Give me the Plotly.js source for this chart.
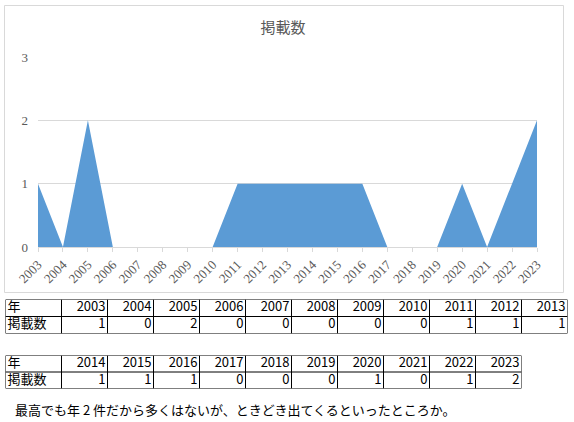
<!DOCTYPE html>
<html>
<head>
<meta charset="utf-8">
<script src="https://cdn.plot.ly/plotly-3.0.1.min.js"></script>
<style>html,body{margin:0;padding:0;background:#fff;}</style>
</head>
<body>
<div id="chart" style="width:574px;height:422px;"></div>
<script>
const years = [2003,2004,2005,2006,2007,2008,2009,2010,2011,2012,2013,2014,2015,2016,2017,2018,2019,2020,2021,2022,2023];
const counts = [1,0,2,0,0,0,0,0,1,1,1,1,1,1,0,0,0,1,0,1,2];
const chartTitle = '掲載数';
const rowHeaderYear = '年';
const rowHeaderCount = '掲載数';
const note = '最高でも年 2 件だから多くはないが、ときどき出てくるといったところか。';
const split = 11;

const W = 574, H = 422;
const px = v => v / W;
const py = v => 1 - v / H;

const jp = '"Noto Sans CJK JP", "Noto Sans", sans-serif';
const serif = '"Liberation Serif", "DejaVu Serif", serif';

const FIRST_W = 56, COL_W = 46;

// Build a table as line + text traces on its own axis pair
function tableTraces(ys, cs, ax) {
  const xa = 'x' + ax, ya = 'y' + ax;
  const n = ys.length;
  const edges = [0, FIRST_W];
  for (let i = 0; i < n; i++) edges.push(FIRST_W + (i + 1) * COL_W);
  const total = edges[edges.length - 1];
  const lx = [], ly = [];
  edges.forEach(e => { lx.push(e, e, null); ly.push(0, 2, null); });
  [0, 1, 2].forEach(r => { lx.push(0, total, null); ly.push(r, r, null); });
  const grid = {
    type: 'scatter', xaxis: xa, yaxis: ya, mode: 'lines',
    x: lx, y: ly, line: {color: '#000', width: 1}, hoverinfo: 'skip'
  };
  const headText = {
    type: 'scatter', xaxis: xa, yaxis: ya, mode: 'text',
    x: [2, 2], y: [0.5, 1.5], text: [rowHeaderYear, rowHeaderCount],
    textposition: 'middle right',
    textfont: {family: jp, size: 13, color: '#000'}, hoverinfo: 'skip'
  };
  const vx = [], vy = [], vt = [];
  ys.forEach((yr, i) => {
    const right = edges[i + 2] - 2;
    vx.push(right, right); vy.push(0.5, 1.5); vt.push(String(yr), String(cs[i]));
  });
  const valText = {
    type: 'scatter', xaxis: xa, yaxis: ya, mode: 'text',
    x: vx, y: vy, text: vt, textposition: 'middle left',
    textfont: {family: jp, size: 13, color: '#000'}, hoverinfo: 'skip'
  };
  return {traces: [grid, headText, valText], total: total};
}

const area = {
  type: 'scatter',
  x: years,
  y: counts,
  mode: 'lines',
  line: {width: 0, color: '#5B9BD5'},
  fill: 'tozeroy',
  fillcolor: '#5B9BD5',
  hoverinfo: 'x+y'
};

const T1 = tableTraces(years.slice(0, split), counts.slice(0, split), 2);
const T2 = tableTraces(years.slice(split), counts.slice(split), 3);

function tblAxisX(total, x0) {
  return {domain: [px(x0), px(x0 + total)], range: [0, total], visible: false, fixedrange: true};
}
function tblAxisY(yTop, yBot) {
  return {domain: [py(yBot), py(yTop)], range: [2, 0], visible: false, fixedrange: true};
}

const layout = {
  width: W, height: H,
  margin: {l: 0, r: 0, t: 0, b: 0},
  paper_bgcolor: '#fff',
  plot_bgcolor: 'rgba(0,0,0,0)',
  showlegend: false,
  title: {
    text: chartTitle,
    x: px(283), xanchor: 'center',
    y: py(28), yanchor: 'middle',
    font: {family: jp, size: 15, color: '#595959'}
  },
  xaxis: {
    domain: [px(38), px(537)],
    range: [2003, 2023],
    tickmode: 'array',
    tickvals: years,
    ticktext: years.map(String),
    tickangle: -45,
    ticks: 'outside',
    ticklen: 4,
    tickcolor: '#D9D9D9',
    showgrid: false,
    zeroline: false,
    showline: true,
    linecolor: '#D9D9D9',
    linewidth: 1,
    tickfont: {family: serif, size: 13, color: '#595959'},
    fixedrange: true
  },
  yaxis: {
    domain: [py(247), py(57)],
    range: [0, 3],
    tickvals: [0, 1, 2, 3],
    showgrid: true,
    gridcolor: '#D9D9D9',
    gridwidth: 1,
    zeroline: false,
    showline: false,
    ticks: '',
    ticklabelstandoff: 9,
    tickfont: {family: serif, size: 13, color: '#595959'},
    fixedrange: true
  },
  xaxis2: tblAxisX(T1.total, 5.5),
  yaxis2: tblAxisY(299.5, 333.5),
  xaxis3: tblAxisX(T2.total, 5.5),
  yaxis3: tblAxisY(355.5, 388.5),
  shapes: [{
    type: 'rect', xref: 'paper', yref: 'paper',
    x0: px(4.5), x1: px(563.5), y0: py(292.5), y1: py(5.5),
    line: {color: '#D9D9D9', width: 1}
  }],
  annotations: [{
    text: note,
    xref: 'paper', yref: 'paper',
    x: px(13), xanchor: 'left',
    y: py(409), yanchor: 'middle',
    showarrow: false,
    font: {family: jp, size: 13, color: '#000'}
  }]
};

Plotly.newPlot('chart', [area].concat(T1.traces, T2.traces), layout, {displayModeBar: false, staticPlot: true});
</script>
</body>
</html>
